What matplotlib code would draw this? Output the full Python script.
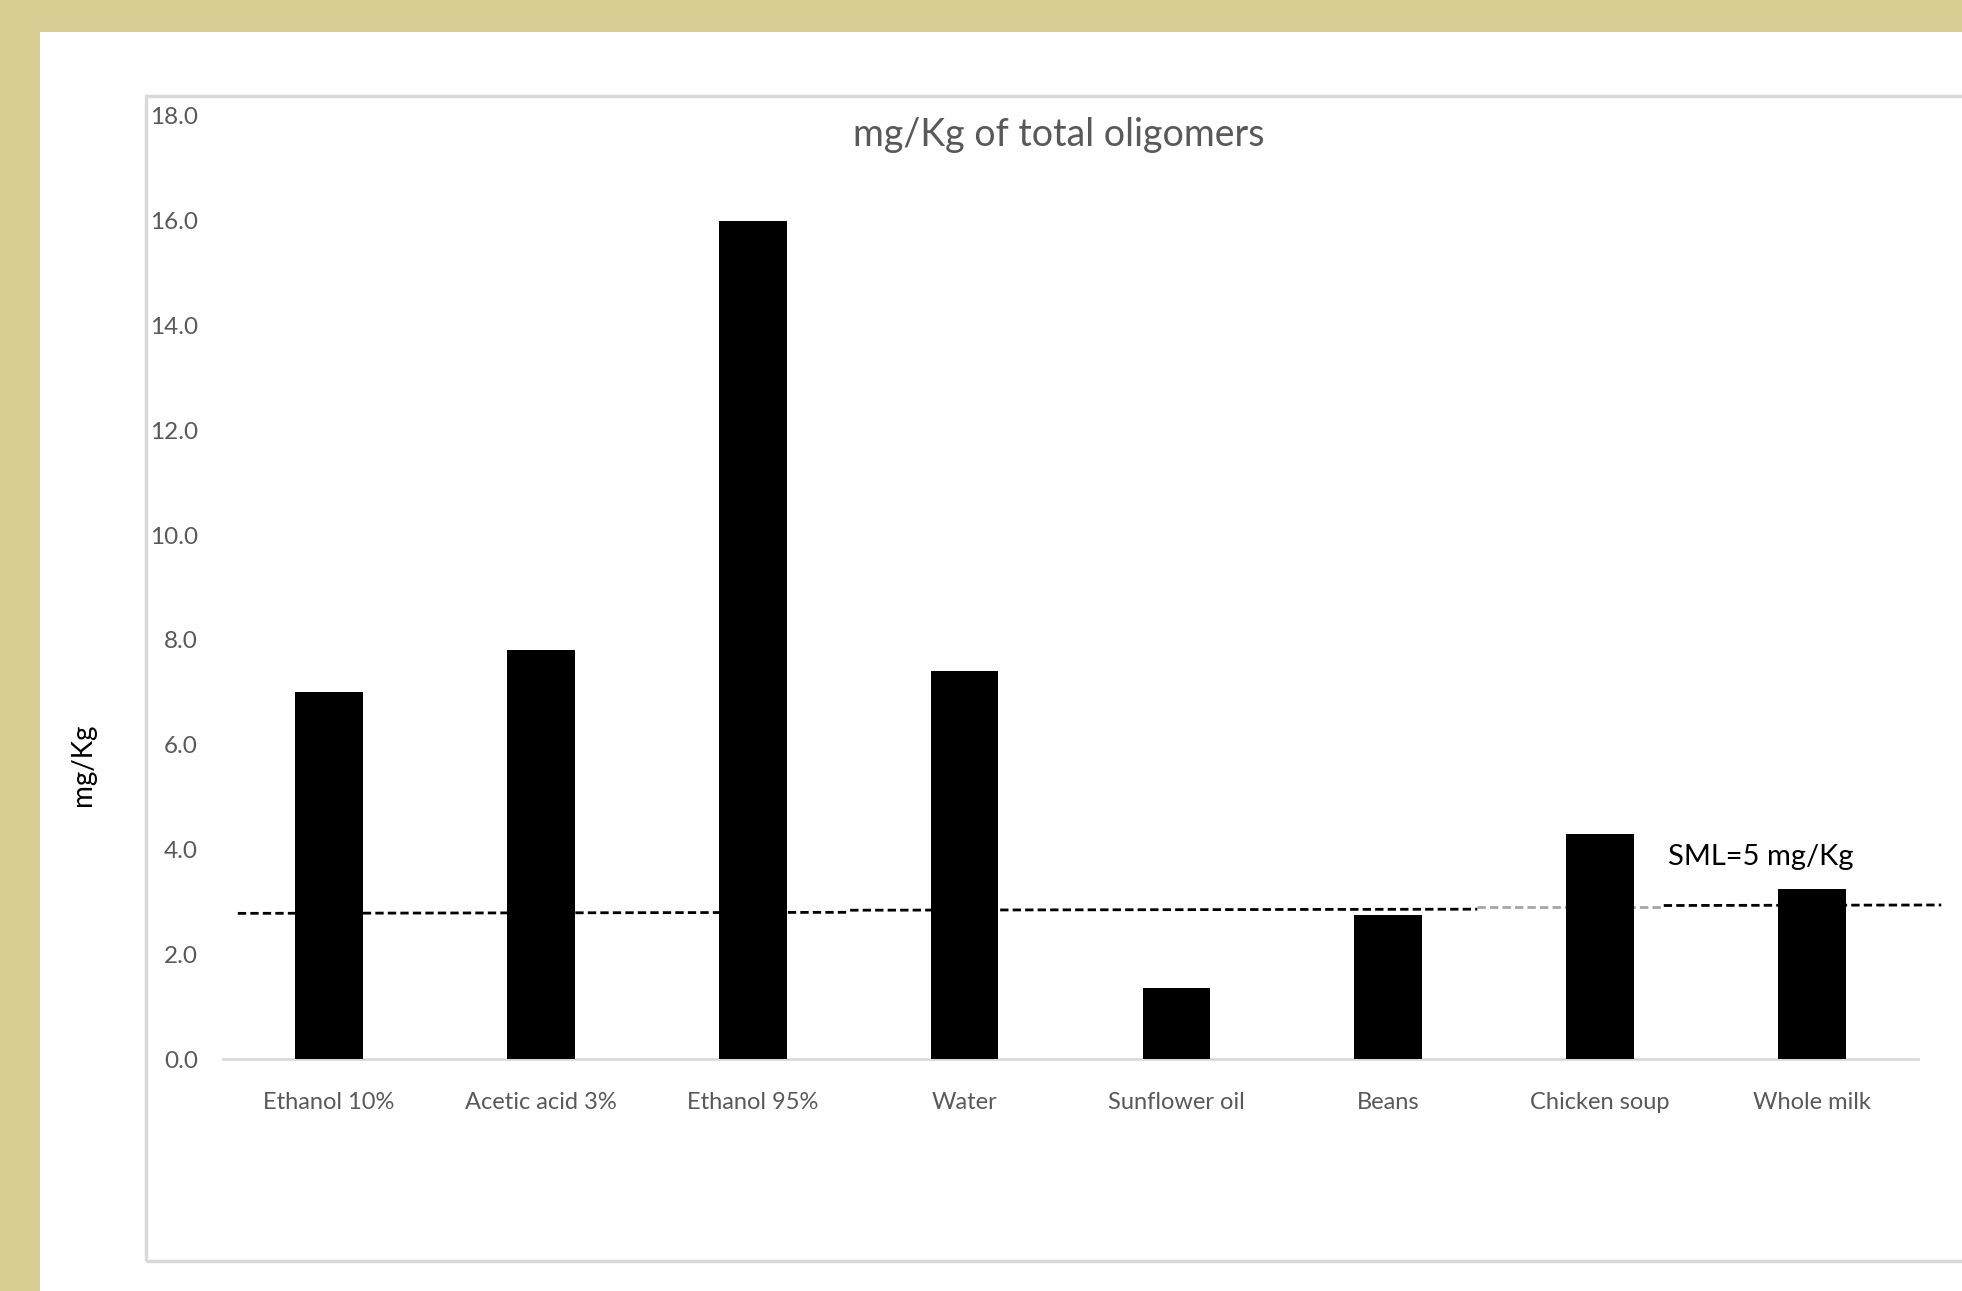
import matplotlib
matplotlib.use("Agg")
import matplotlib.pyplot as plt
from matplotlib import font_manager
from matplotlib.patches import Rectangle

# ---- data ----
categories = ["Ethanol 10%", "Acetic acid 3%", "Ethanol 95%", "Water",
              "Sunflower oil", "Beans", "Chicken soup", "Whole milk"]
values = [7.0, 7.8, 16.0, 7.4, 1.35, 2.75, 4.3, 3.25]
yticks = [0, 2, 4, 6, 8, 10, 12, 14, 16, 18]
ytick_labels = ["0.0", "2.0", "4.0", "6.0", "8.0", "10.0", "12.0", "14.0", "16.0", "18.0"]
title = "mg/Kg of total oligomers"
ylabel = "mg/Kg"
sml_label = "SML=5 mg/Kg"
sml_label_pos = (6.32, 3.85)
# dashed reference line, drawn in pieces (x start, x end, y start, y end, colour)
sml_x = [(-0.43, 2.46), (2.46, 5.42), (5.42, 6.30), (6.30, 7.61)]
sml_y = [(2.78, 2.80), (2.84, 2.86), (2.90, 2.90), (2.93, 2.94)]
sml_colors = ["black", "black", "#a6a6a6", "black"]

# ---- font ----
available = {f.name for f in font_manager.fontManager.ttflist}
narrow = next((f for f in ["Liberation Sans Narrow", "Lato", "Open Sans"] if f in available), "DejaVu Sans")
plt.rcParams["font.family"] = [narrow, "DejaVu Sans"]

W, H = 1962, 1291
fig = plt.figure(figsize=(W / 100, H / 100), dpi=100, facecolor="#d8ce94")

def fx(px):
    return px / W

def fy(py):
    return 1 - py / H

# white panel
fig.patches.append(Rectangle((fx(40), 0), 1 - fx(40), fy(32), transform=fig.transFigure,
                             facecolor="white", edgecolor="none", zorder=0))
# chart frame
fig.patches.append(Rectangle((fx(146), fy(1261)), 1.2, fy(96) - fy(1261), transform=fig.transFigure,
                             facecolor="none", edgecolor="#d9d9d9", lw=2.5, zorder=1))

left, right, top, bottom = 223, 1918, 116, 1059
ax = fig.add_axes([fx(left), fy(bottom), fx(right - left), fy(top) - fy(bottom)])
ax.set_zorder(5)
ax.set_facecolor("none")
x = list(range(len(categories)))
ax.bar(x, values, width=0.32, color="black", zorder=3)
ax.set_xlim(-0.5, len(categories) - 0.5)
ax.set_ylim(0, 18)

for (x0, x1), (y0, y1), c in zip(sml_x, sml_y, sml_colors):
    ax.plot([x0, x1], [y0, y1], color=c, lw=2, linestyle=(0, (3, 1.5)), zorder=2, clip_on=False)

ax.text(sml_label_pos[0], sml_label_pos[1], sml_label, fontsize=21, color="black",
        ha="left", va="center", zorder=4)

for s in ["top", "right", "left"]:
    ax.spines[s].set_visible(False)
ax.spines["bottom"].set_color("#d9d9d9")
ax.spines["bottom"].set_linewidth(2)

ax.set_yticks(yticks)
ax.set_yticklabels(ytick_labels)
ax.set_xticks(x)
ax.set_xticklabels(categories)
ax.tick_params(axis="y", length=0, pad=18, labelsize=17.5, labelcolor="#595959")
ax.tick_params(axis="x", length=0, pad=24, labelsize=17, labelcolor="#595959")

fig.text(fx(1059), fy(135), title, fontsize=27, color="#595959", ha="center", va="center", zorder=6)
fig.text(fx(83), fy(765), ylabel, fontsize=20, color="black", rotation=90, ha="center", va="center", zorder=6)

fig.savefig("out.png", dpi=100, facecolor=fig.get_facecolor())
